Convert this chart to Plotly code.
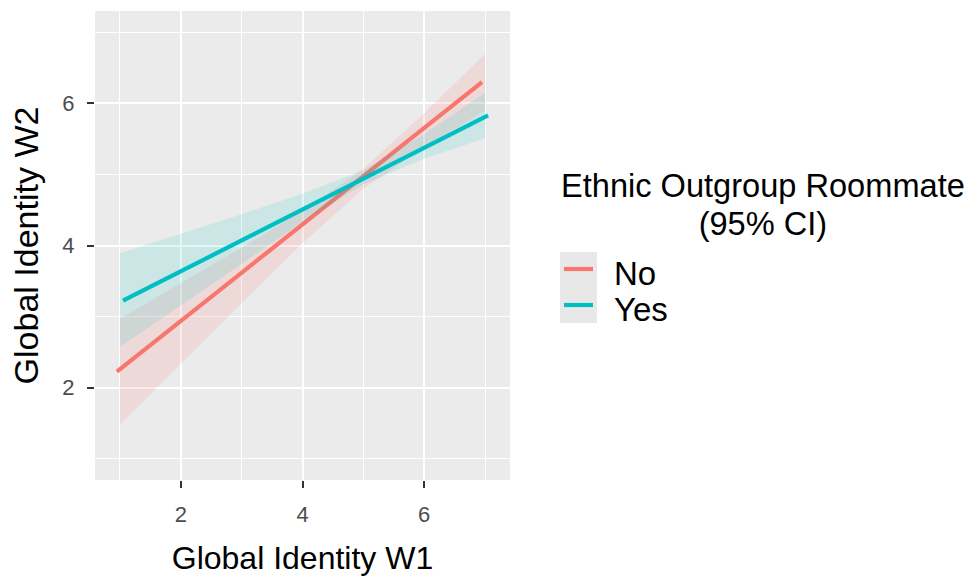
import plotly.graph_objects as go

# ---- data ----
groups = ["No", "Yes"]
colors = {"No": "#F8766D", "Yes": "#00BFC4"}
fills = {"No": "rgba(248,118,109,0.15)", "Yes": "rgba(0,191,196,0.13)"}

# fitted line end points (slightly dodged)
line_x = {"No": [0.95, 6.95], "Yes": [1.05, 7.05]}
line_y = {"No": [2.225, 6.30], "Yes": [3.225, 5.83]}

# 95% CI ribbons
ci_x = [1, 2, 3, 4, 5, 6, 7]
ci_lower = {"No": [1.48, 2.33, 3.19, 4.03, 4.80, 5.38, 5.90],
            "Yes": [2.57, 3.16, 3.74, 4.33, 4.86, 5.22, 5.51]}
ci_upper = {"No": [2.97, 3.47, 3.97, 4.49, 5.08, 5.86, 6.70],
            "Yes": [3.89, 4.16, 4.44, 4.73, 5.06, 5.57, 6.15]}

x_ticks = [2, 4, 6]
y_ticks = [2, 4, 6]

legend_title = ["Ethnic Outgroup Roommate", "(95% CI)"]

FONT = "Liberation Sans, Arial, Helvetica, sans-serif"
W, H = 976, 578
ML, MR, MT, MB = 95, 466, 11, 98


def px(xp):
    return (xp - ML) / (W - ML - MR)


def py(yp):
    return (H - MB - yp) / (H - MT - MB)


fig = go.Figure()
for g in groups:
    fig.add_trace(go.Scatter(
        x=ci_x + ci_x[::-1], y=ci_upper[g] + ci_lower[g][::-1],
        fill="toself", fillcolor=fills[g], line=dict(width=0),
        mode="lines", showlegend=False, hoverinfo="skip"))
    fig.add_trace(go.Scatter(
        x=line_x[g], y=line_y[g], mode="lines", name=g, showlegend=False,
        line=dict(color=colors[g], width=4.2)))

axis_common = dict(
    showgrid=True, gridcolor="white", gridwidth=2,
    zeroline=False, showline=False, automargin=False,
    ticks="outside", ticklen=7, tickwidth=1.5, tickcolor="#333333",
    tickfont=dict(family=FONT, size=22, color="#4D4D4D"),
    minor=dict(dtick=1, tick0=0, showgrid=True, gridcolor="white", gridwidth=1, ticks=""),
)

fig.update_xaxes(range=[0.59, 7.41], tickvals=x_ticks, ticklabelstandoff=8,
                 title=dict(text="Global Identity W1",
                            font=dict(family=FONT, size=32, color="black"), standoff=20),
                 **axis_common)
fig.update_yaxes(range=[0.70, 7.30], tickvals=y_ticks, ticklabelstandoff=8,
                 title=dict(text="Global Identity W2",
                            font=dict(family=FONT, size=34, color="black"), standoff=13),
                 **axis_common)

# ---- manual legend ----
shapes = [
    dict(type="rect", xref="paper", yref="paper",
         x0=px(560), x1=px(597), y0=py(323), y1=py(252),
         fillcolor="#E8E8E8", line=dict(width=0), layer="above"),
]
key_y = {"No": 269, "Yes": 305}
for g in groups:
    shapes.append(dict(type="line", xref="paper", yref="paper",
                       x0=px(564), x1=px(593), y0=py(key_y[g]), y1=py(key_y[g]),
                       line=dict(color=colors[g], width=4.2), layer="above"))

# two-line title in one text; small base font keeps the line spacing tight
title_html = "<br>".join('<span style="font-size:32.6px">%s</span>' % t for t in legend_title)
annotations = [
    dict(text=title_html, xref="paper", yref="paper", x=px(763), y=py(204),
         xanchor="center", yanchor="middle", align="center", showarrow=False,
         font=dict(family=FONT, size=29, color="black")),
]
for g in groups:
    annotations.append(dict(text=g, xref="paper", yref="paper", x=px(612), y=py(key_y[g] + 4),
                            xanchor="left", yanchor="middle", showarrow=False,
                            font=dict(family=FONT, size=33, color="black")))

fig.update_layout(
    width=W, height=H,
    margin=dict(l=ML, r=MR, t=MT, b=MB),
    plot_bgcolor="#EBEBEB", paper_bgcolor="white",
    font=dict(family=FONT),
    showlegend=False,
    shapes=shapes,
    annotations=annotations,
)

fig.write_html("out.html", config={"displayModeBar": False},
               post_script="document.body.style.margin='0';")
